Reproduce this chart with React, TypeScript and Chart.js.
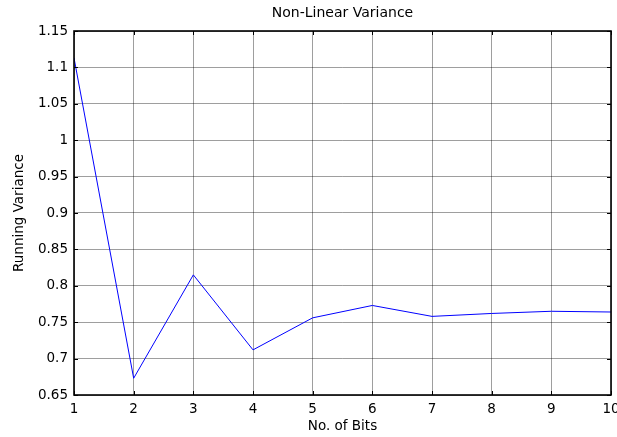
import React, { useEffect, useRef } from "react";
import { Chart, registerables } from "chart.js";

Chart.register(...registerables);

const bits: number[] = [1, 2, 3, 4, 5, 6, 7, 8, 9, 10];
const runningVariance: number[] = [1.113, 0.673, 0.815, 0.712, 0.756, 0.773, 0.758, 0.762, 0.765, 0.764];
const yTicks: number[] = [0.65, 0.7, 0.75, 0.8, 0.85, 0.9, 0.95, 1, 1.05, 1.1, 1.15];
const titleText = "Non-Linear Variance";
const xTitle = "No. of Bits";
const yTitle = "Running Variance";

const FONT = "'DejaVu Sans', Arial, sans-serif";

const framePlugin = {
  id: "matlabFrame",
  afterDraw(chart: any) {
    const { ctx, chartArea } = chart;
    const { left, right, top, bottom } = chartArea;
    const xs = chart.scales.x;
    const ys = chart.scales.y;
    const tl = 4;
    ctx.save();
    ctx.strokeStyle = "#000";
    ctx.lineWidth = 1;
    ctx.beginPath();
    xs.ticks.forEach((t: any) => {
      const px = Math.round(xs.getPixelForValue(t.value)) + 0.5;
      ctx.moveTo(px, bottom);
      ctx.lineTo(px, bottom - tl);
      ctx.moveTo(px, top);
      ctx.lineTo(px, top + tl);
    });
    ys.ticks.forEach((t: any) => {
      const py = Math.round(ys.getPixelForValue(t.value)) + 0.5;
      ctx.moveTo(left, py);
      ctx.lineTo(left + tl, py);
      ctx.moveTo(right, py);
      ctx.lineTo(right - tl, py);
    });
    ctx.stroke();
    ctx.lineWidth = 1.6;
    ctx.strokeRect(left, top, right - left, bottom - top);
    ctx.restore();
  },
};

export default function App() {
  const ref = useRef<HTMLCanvasElement | null>(null);
  useEffect(() => {
    if (!ref.current) return;
    const chart = new Chart(ref.current, {
      type: "line",
      data: {
        datasets: [
          {
            data: bits.map((b, i) => ({ x: b, y: runningVariance[i] })),
            borderColor: "#0000ff",
            borderWidth: 1,
            pointRadius: 0,
            tension: 0,
            fill: false,
          },
        ],
      },
      options: {
        animation: false,
        responsive: false,
        maintainAspectRatio: false,
        layout: { padding: { left: 0, right: 6, top: 0, bottom: 0 } },
        plugins: {
          legend: { display: false },
          tooltip: { enabled: false },
          title: {
            display: true,
            fullSize: false,
            text: titleText,
            color: "#000",
            font: { family: FONT, size: 14, weight: "normal" },
            padding: { top: 5, bottom: 9.2 },
          },
        },
        scales: {
          x: {
            type: "linear",
            min: 1,
            max: 10,
            afterFit(scale: any) {
              scale.height = 42;
              scale.paddingLeft = 0;
              scale.paddingRight = 0;
            },
            ticks: {
              stepSize: 1,
              color: "#000",
              padding: 6,
              maxRotation: 0,
              font: { family: FONT, size: 13.5 },
            },
            grid: { color: "rgba(0,0,0,0.38)", lineWidth: 1, drawTicks: false },
            border: { display: false },
            title: {
              display: true,
              text: xTitle,
              color: "#000",
              font: { family: FONT, size: 13.5 },
              padding: { top: 0, bottom: 2 },
            },
          },
          y: {
            type: "linear",
            min: 0.65,
            max: 1.15,
            afterFit(scale: any) {
              scale.width = 74;
              scale.paddingTop = 0;
              scale.paddingBottom = 0;
            },
            afterBuildTicks(scale: any) {
              scale.ticks = yTicks.map((v) => ({ value: v }));
            },
            ticks: {
              color: "#000",
              padding: 6,
              font: { family: FONT, size: 13.5 },
              callback: (v: any) => String(Number(Number(v).toFixed(2))),
            },
            grid: { color: "rgba(0,0,0,0.38)", lineWidth: 1, drawTicks: false },
            border: { display: false },
            title: {
              display: true,
              text: yTitle,
              color: "#000",
              font: { family: FONT, size: 13.5 },
              padding: { top: 11, bottom: 0 },
            },
          },
        },
      },
      plugins: [framePlugin],
    } as any);
    return () => chart.destroy();
  }, []);
  return (
    <div style={{ position: "fixed", left: 0, top: 0, width: 617, height: 437, background: "#fff" }}>
      <canvas ref={ref} width={617} height={437} style={{ width: 617, height: 437, display: "block" }} />
    </div>
  );
}
